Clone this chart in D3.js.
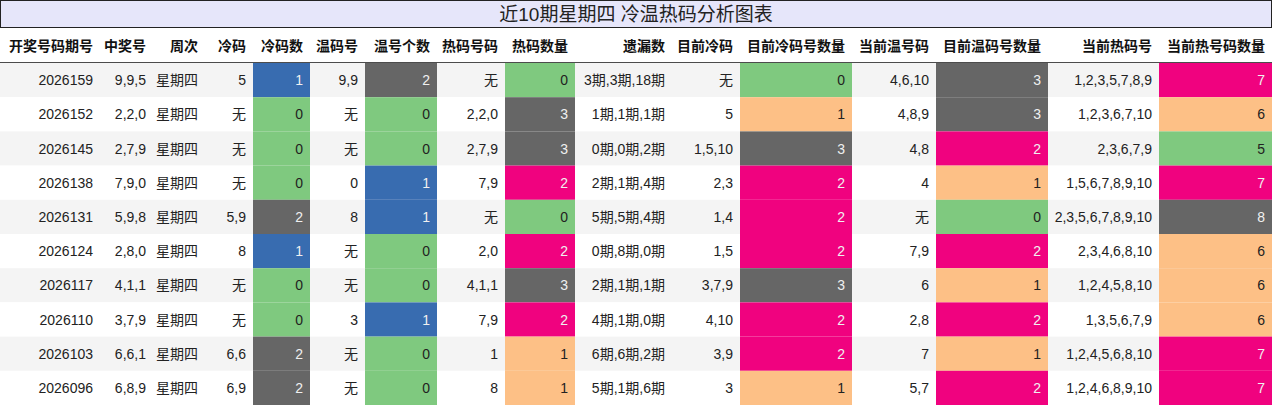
<!DOCTYPE html>
<html><head><meta charset="utf-8">
<script src="https://cdn.jsdelivr.net/npm/d3@7"></script>
<style>body{margin:0;background:#fff;font-family:"Liberation Sans","Noto Sans CJK SC",sans-serif;}</style>
</head><body><svg id="c" width="1272" height="405"></svg>
<script>
var title = '近10期星期四 冷温热码分析图表';
var headers = ['开奖号码期号','中奖号','周次','冷码','冷码数','温码号','温号个数','热码号码','热码数量','遗漏数','目前冷码','目前冷码号数量','当前温号码','目前温码号数量','当前热码号','当前热号码数量'];
var colRight = [100,153,205,253,310,365,437,505,575,672,740,852,936,1048,1159,1272];
var issues = ['2026159','2026152','2026145','2026138','2026131','2026124','2026117','2026110','2026103','2026096'];
var winning = ['9,9,5','2,2,0','2,7,9','7,9,0','5,9,8','2,8,0','4,1,1','3,7,9','6,6,1','6,8,9'];
var weekday = ['星期四','星期四','星期四','星期四','星期四','星期四','星期四','星期四','星期四','星期四'];
var coldNums = ['5','无','无','无','5,9','8','无','无','6,6','6,9'];
var coldCount = [1,0,0,0,2,1,0,0,2,2];
var warmNums = ['9,9','无','无','0','8','无','无','3','无','无'];
var warmCount = [2,0,0,1,1,0,0,1,0,0];
var hotNums = ['无','2,2,0','2,7,9','7,9','无','2,0','4,1,1','7,9','1','8'];
var hotCount = [0,3,3,2,0,2,3,2,1,1];
var missing = ['3期,3期,18期','1期,1期,1期','0期,0期,2期','2期,1期,4期','5期,5期,4期','0期,8期,0期','2期,1期,1期','4期,1期,0期','6期,6期,2期','5期,1期,6期'];
var curCold = ['无','5','1,5,10','2,3','1,4','1,5','3,7,9','4,10','3,9','3'];
var curColdCount = [0,1,3,2,2,2,3,2,2,1];
var curWarm = ['4,6,10','4,8,9','4,8','4','无','7,9','6','2,8','7','5,7'];
var curWarmCount = [3,3,2,1,0,2,1,2,1,2];
var curHot = ['1,2,3,5,7,8,9','1,2,3,6,7,10','2,3,6,7,9','1,5,6,7,8,9,10','2,3,5,6,7,8,9,10','2,3,4,6,8,10','1,2,4,5,8,10','1,3,5,6,7,9','1,2,4,5,6,8,10','1,2,4,6,8,9,10'];
var curHotCount = [7,6,5,7,8,6,6,6,7,7];

var columns = [issues,winning,weekday,coldNums,coldCount,warmNums,warmCount,hotNums,hotCount,missing,curCold,curColdCount,curWarm,curWarmCount,curHot,curHotCount];
var colored = {4:1,6:1,8:1,11:1,13:1,15:1};
var pal3 = ['#7fc97f','#386cb0','#666666'];
var pal4 = ['#7fc97f','#fdc086','#f0027f','#666666'];

var svg = d3.select('#c');
var W = 1272, titleH = 28, headH = 35, top0 = 63;
var y = d3.scaleBand().domain(d3.range(issues.length)).range([top0, 405]);
var colLeft = colRight.map(function(r,i){ return i ? colRight[i-1] : 0; });

svg.append('rect').attr('x',0.5).attr('y',0.5).attr('width',W-1).attr('height',titleH-1)
  .attr('fill','#e6e6fa').attr('stroke','#222');
svg.append('text').attr('x',W/2).attr('y',21).attr('text-anchor','middle')
  .attr('font-size',19).attr('fill','#222').text(title);

svg.selectAll('text.h').data(headers).join('text').attr('class','h')
  .attr('x',function(d,i){return colRight[i]-7;}).attr('y',top0-12)
  .attr('text-anchor','end').attr('font-size',14).attr('font-weight','bold').attr('fill','#111')
  .text(function(d){return d;});
svg.append('line').attr('x1',0).attr('x2',W).attr('y1',top0).attr('y2',top0).attr('stroke','#111').attr('stroke-width',1.5);

svg.selectAll('rect.row').data(issues).join('rect').attr('class','row')
  .attr('x',0).attr('width',W).attr('y',function(d,i){return y(i);}).attr('height',y.bandwidth())
  .attr('fill',function(d,i){return i%2===0?'#f4f4f4':'#ffffff';});

columns.forEach(function(vals,c){
  var color = null;
  if (colored[c]) {
    var dom = Array.from(new Set(vals)).sort(d3.ascending);
    color = d3.scaleOrdinal().domain(dom).range(dom.length<=3?pal3:pal4);
    svg.selectAll(null).data(vals).join('rect')
      .attr('x',colLeft[c]).attr('width',colRight[c]-colLeft[c])
      .attr('y',function(d,i){return y(i);}).attr('height',y.bandwidth())
      .attr('fill',function(d){return color(d);});
  }
  svg.selectAll(null).data(vals).join('text')
    .attr('x',colRight[c]-7).attr('y',function(d,i){return y(i)+y.bandwidth()/2+5;})
    .attr('text-anchor','end').attr('font-size',14)
    .attr('fill',function(d){ if(!color) return '#222'; var k=color(d); return (k==='#386cb0'||k==='#666666'||k==='#f0027f')?'#f0f0f0':'#222'; })
    .text(function(d){return d;});
});
</script></body></html>
